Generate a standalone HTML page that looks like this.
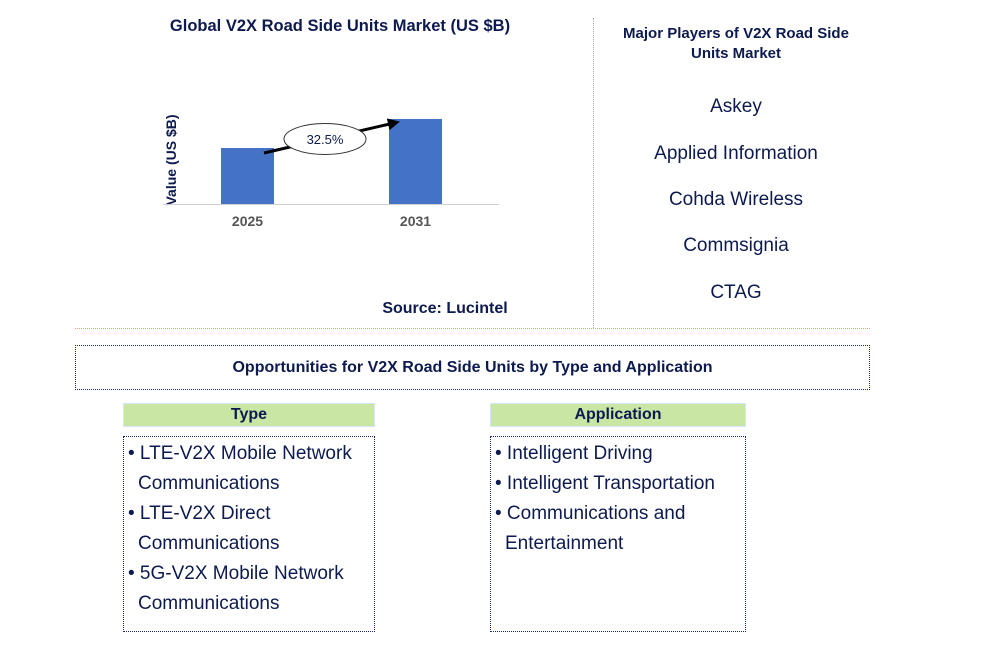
<!DOCTYPE html>
<html><head><meta charset="utf-8"><style>
body{margin:0;width:998px;height:652px;background:#fff;font-family:"Liberation Sans",sans-serif;position:relative;overflow:hidden;color:#0d1a4f}
.a{position:absolute}
.t{font-weight:bold;font-size:15px;color:#0d1a4f;text-align:center}
.pl{font-size:19px;text-align:center;width:300px;left:586px;color:#0d1a4f}
.hd{background:#c9e6a4;border:1px solid #d6e6f2;font-weight:bold;font-size:16px;text-align:center;line-height:22px;height:22px}
.bx{border:1px dotted #1a2a6a;font-size:19px;line-height:30px;padding:2px 0 0 4px;box-sizing:border-box}
.bx div{padding-left:10px;text-indent:-10px}
</style></head><body>
<div class="a t" style="left:120px;top:17px;width:440px;font-size:16.5px">Global V2X Road Side Units Market (US $B)</div>
<svg class="a" style="left:0;top:0" width="600" height="320" id="ch">
<defs><marker id="ah" markerWidth="4" markerHeight="4" refX="2" refY="2" orient="auto"><path d="M0,0 L4,2 L0,4z" fill="#000"/></marker></defs>
<text x="176" y="160" transform="rotate(-90 176 160)" text-anchor="middle" font-size="14" font-weight="bold" fill="#0d1a4f" font-family="Liberation Sans">Value (US $B)</text>
<line x1="163" y1="204.5" x2="499" y2="204.5" stroke="#d0d0d0"/>
</svg>
<div class="a t" style="left:330px;top:300px;width:230px;font-size:16px">Source: Lucintel</div>
<div class="a" style="left:593px;top:18px;height:310px;border-left:1px dotted #aaa"></div>
<div class="a t" style="left:611px;top:24px;width:250px;line-height:20px">Major Players of V2X Road Side Units Market</div>
<div class="a pl" style="top:96px">Askey</div>
<div class="a pl" style="top:143px">Applied Information</div>
<div class="a pl" style="top:189px">Cohda Wireless</div>
<div class="a pl" style="top:235px">Commsignia</div>
<div class="a pl" style="top:282px">CTAG</div>
<div class="a" style="left:75px;top:328px;width:795px;border-top:1px dotted #f0b400"></div>
<div class="a t" style="left:75px;top:345px;width:793px;height:43px;border:1px dotted #1a2a6a;line-height:43px;font-size:16px">Opportunities for V2X Road Side Units by Type and Application</div>
<div class="a hd" style="left:123px;top:403px;width:250px">Type</div>
<div class="a hd" style="left:490px;top:403px;width:254px">Application</div>
<div class="a bx" style="left:123px;top:436px;width:252px;height:196px">
<div>• LTE-V2X Mobile Network Communications</div>
<div>• LTE-V2X Direct Communications</div>
<div>• 5G-V2X Mobile Network Communications</div></div>
<div class="a bx" style="left:490px;top:436px;width:256px;height:196px">
<div>• Intelligent Driving</div>
<div>• Intelligent Transportation</div>
<div>• Communications and Entertainment</div></div>
<script>
const categories=["2025","2031"];
const values=[0.56,0.85];
const cagrLabel="32.5%";
const svg=document.getElementById('ch');const NS="http://www.w3.org/2000/svg";
const base=204,scale=100;
function xPos(i){return 221+i*168;}
function yPos(v){return base-v*scale;}
categories.forEach((c,i)=>{
const r=document.createElementNS(NS,'rect');
r.setAttribute('x',xPos(i));r.setAttribute('y',yPos(values[i]));r.setAttribute('width',53);r.setAttribute('height',base-yPos(values[i]));r.setAttribute('fill','#4472c4');


svg.appendChild(r);
const t=document.createElementNS(NS,'text');
t.setAttribute('x',xPos(i)+26.5);t.setAttribute('y',226);t.setAttribute('text-anchor','middle');t.setAttribute('font-size','14');t.setAttribute('font-weight','bold');t.setAttribute('fill','#555');t.setAttribute('font-family','Liberation Sans');t.textContent=c;


svg.appendChild(t);
});
const l=document.createElementNS(NS,'line');
l.setAttribute('x1',xPos(0)+43);l.setAttribute('y1',yPos(values[0])+5);l.setAttribute('x2',xPos(1)+5);l.setAttribute('y2',yPos(values[1])+4);l.setAttribute('stroke','#000');l.setAttribute('stroke-width','3');l.setAttribute('marker-end','url(#ah)');


svg.appendChild(l);
const e=document.createElementNS(NS,'ellipse');
e.setAttribute('cx',325);e.setAttribute('cy',139);e.setAttribute('rx',41);e.setAttribute('ry',15.5);e.setAttribute('fill','#fff');e.setAttribute('stroke','#333');


svg.appendChild(e);
const ct=document.createElementNS(NS,'text');
ct.setAttribute('x',325);ct.setAttribute('y',144);ct.setAttribute('text-anchor','middle');ct.setAttribute('font-size','13');ct.setAttribute('fill','#0d1a4f');ct.setAttribute('font-family','Liberation Sans');ct.textContent=cagrLabel;


svg.appendChild(ct);
</script>
</body></html>
